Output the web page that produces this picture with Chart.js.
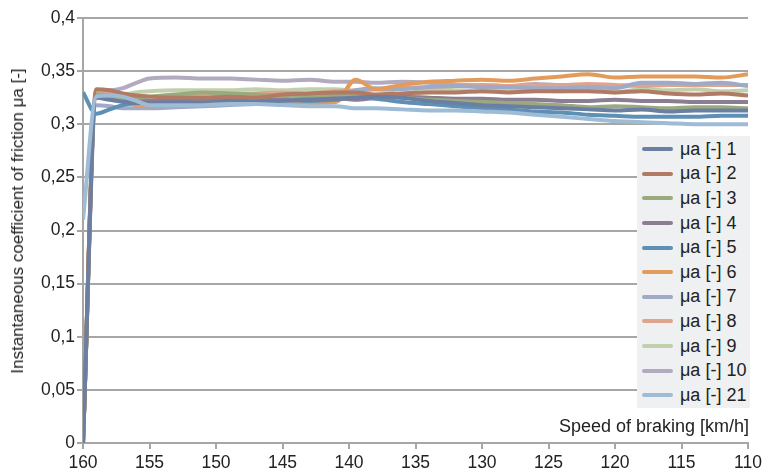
<!DOCTYPE html>
<html lang="en">
<head>
    <meta charset="UTF-8">
    <title>Instantaneous coefficient of friction</title>
    <script src="https://cdn.jsdelivr.net/npm/chart.js"></script>
    <style>
        body {
            margin: 0;
            padding: 0;
            background: #fff;
            font-family: "Liberation Sans", Arial, sans-serif;
        }
        .wrap {
            position: relative;
            width: 780px;
            height: 475px;
        }
        .y-title {
            position: absolute;
            left: 18px;
            top: 221px;
            transform: translate(-50%, -50%) rotate(-90deg);
            white-space: nowrap;
            font-size: 17px;
            color: #222;
        }
        .x-title {
            position: absolute;
            right: 31px;
            top: 416px;
            font-size: 18px;
            color: #222;
        }
        .legend {
            position: absolute;
            left: 637px;
            top: 136px;
            width: 113px;
            height: 272px;
            background: #eff0f2;
            box-sizing: border-box;
            padding-top: 1px;
        }
        .legend .row {
            height: 24.6px;
            display: flex;
            align-items: center;
            font-size: 18px;
            color: #222;
        }
        .legend .swatch {
            width: 31px;
            height: 4px;
            border-radius: 2px;
            margin-left: 5px;
            margin-right: 7px;
        }
    </style>
</head>
<body>
<div class="wrap">
    <canvas id="muChart" width="780" height="475"></canvas>
    <div class="y-title">Instantaneous coefficient of friction μa [-]</div>
    <div class="x-title">Speed of braking [km/h]</div>
    <div class="legend" id="legend"></div>
</div>
<script>
    // speeds in km/h (axis runs from 160 down to 110)
    const speeds = [160, 159, 158, 157, 156, 155, 153, 151, 149, 147, 145, 143, 141, 139.5, 138, 136, 134, 132, 130, 128, 126, 124, 122, 120, 118, 116, 114, 112, 110];

    const seriesNames = ['μa [-] 1', 'μa [-] 2', 'μa [-] 3', 'μa [-] 4', 'μa [-] 5', 'μa [-] 6', 'μa [-] 7', 'μa [-] 8', 'μa [-] 9', 'μa [-] 10', 'μa [-] 21'];
    const seriesColors = ['#6b7fa3', '#b07a64', '#9aaa7e', '#8c7e92', '#5e8fb4', '#e39b5b', '#9eaac6', '#dea48e', '#c2cfac', '#b2aabf', '#9ebcd6'];

    const mu1 = [0, 0.325, 0.323, 0.321, 0.320, 0.320, 0.321, 0.320, 0.322, 0.321, 0.322, 0.323, 0.324, 0.325, 0.326, 0.325, 0.322, 0.320, 0.318, 0.317, 0.316, 0.315, 0.314, 0.313, 0.314, 0.312, 0.313, 0.313, 0.313];
    const mu2 = [0, 0.333, 0.332, 0.329, 0.327, 0.326, 0.325, 0.325, 0.326, 0.325, 0.328, 0.329, 0.330, 0.330, 0.328, 0.329, 0.330, 0.330, 0.331, 0.330, 0.331, 0.331, 0.331, 0.330, 0.331, 0.329, 0.328, 0.329, 0.327];
    const mu3 = [0, 0.328, 0.327, 0.325, 0.325, 0.326, 0.328, 0.330, 0.329, 0.328, 0.327, 0.327, 0.328, 0.327, 0.326, 0.325, 0.323, 0.322, 0.321, 0.320, 0.319, 0.318, 0.316, 0.317, 0.316, 0.315, 0.316, 0.316, 0.315];
    const mu4 = [0, 0.326, 0.325, 0.323, 0.322, 0.322, 0.322, 0.322, 0.323, 0.322, 0.323, 0.324, 0.325, 0.323, 0.325, 0.326, 0.325, 0.324, 0.324, 0.323, 0.323, 0.322, 0.322, 0.323, 0.322, 0.322, 0.321, 0.321, 0.321];
    const mu5 = [0.330, 0.310, 0.314, 0.318, 0.320, 0.321, 0.322, 0.321, 0.321, 0.322, 0.323, 0.322, 0.323, 0.325, 0.324, 0.321, 0.319, 0.317, 0.315, 0.314, 0.312, 0.311, 0.309, 0.308, 0.307, 0.307, 0.307, 0.308, 0.308];
    const mu6 = [0, 0.328, 0.325, 0.322, 0.318, 0.317, 0.318, 0.318, 0.320, 0.322, 0.324, 0.320, 0.321, 0.342, 0.333, 0.337, 0.340, 0.341, 0.342, 0.341, 0.343, 0.345, 0.347, 0.344, 0.345, 0.345, 0.345, 0.344, 0.347];
    const mu7 = [0, 0.318, 0.317, 0.315, 0.315, 0.315, 0.316, 0.317, 0.318, 0.319, 0.320, 0.321, 0.326, 0.332, 0.334, 0.333, 0.335, 0.336, 0.335, 0.335, 0.334, 0.334, 0.335, 0.334, 0.339, 0.339, 0.338, 0.339, 0.336];
    const mu8 = [0, 0.332, 0.330, 0.328, 0.327, 0.326, 0.327, 0.328, 0.328, 0.329, 0.330, 0.329, 0.331, 0.332, 0.333, 0.334, 0.335, 0.336, 0.337, 0.336, 0.337, 0.337, 0.338, 0.337, 0.336, 0.337, 0.337, 0.337, 0.337];
    const mu9 = [0, 0.330, 0.329, 0.328, 0.330, 0.331, 0.332, 0.332, 0.332, 0.333, 0.332, 0.333, 0.333, 0.331, 0.333, 0.328, 0.333, 0.332, 0.331, 0.333, 0.332, 0.331, 0.333, 0.330, 0.333, 0.332, 0.333, 0.331, 0.332];
    const mu10 = [0, 0.330, 0.332, 0.334, 0.339, 0.343, 0.344, 0.343, 0.343, 0.342, 0.341, 0.342, 0.340, 0.340, 0.339, 0.340, 0.339, 0.337, 0.337, 0.336, 0.338, 0.337, 0.337, 0.336, 0.337, 0.337, 0.337, 0.337, 0.337];
    const mu21 = [0.210, 0.326, 0.327, 0.326, 0.322, 0.318, 0.318, 0.318, 0.319, 0.319, 0.318, 0.317, 0.317, 0.315, 0.315, 0.314, 0.313, 0.313, 0.312, 0.311, 0.309, 0.307, 0.305, 0.303, 0.302, 0.301, 0.300, 0.300, 0.300];

    const seriesValues = [mu1, mu2, mu3, mu4, mu5, mu6, mu7, mu8, mu9, mu10, mu21];

    const gridGray = '#a6a6a6';
    const tickFont = { family: '"Liberation Sans", Arial, sans-serif', size: 17.5 };

    const datasets = seriesValues.map((vals, i) => ({
        label: seriesNames[i],
        data: vals.map((v, k) => ({ x: speeds[k], y: v })),
        borderColor: seriesColors[i],
        backgroundColor: seriesColors[i],
        borderWidth: 4,
        pointRadius: 0,
        cubicInterpolationMode: 'monotone',
        fill: false,
        order: i === 10 ? -1 : 0
    }));

    new Chart(document.getElementById('muChart'), {
        type: 'line',
        data: { datasets: datasets },
        options: {
            responsive: false,
            animation: false,
            layout: { padding: { left: 0, top: 18, right: 32, bottom: 0 } },
            plugins: {
                legend: { display: false },
                tooltip: { enabled: false }
            },
            scales: {
                x: {
                    type: 'linear',
                    reverse: true,
                    min: 110,
                    max: 160,
                    ticks: {
                        stepSize: 5,
                        color: '#222',
                        padding: 4,
                        maxRotation: 0,
                        font: tickFont
                    },
                    grid: { drawOnChartArea: false, drawTicks: true, tickLength: 6, color: gridGray, lineWidth: 2 },
                    border: { color: gridGray, width: 2 },
                    afterFit: (scale) => { scale.height = 32; }
                },
                y: {
                    min: 0,
                    max: 0.4,
                    ticks: {
                        stepSize: 0.05,
                        color: '#222',
                        padding: 2,
                        font: tickFont,
                        callback: (v) => String(Math.round(v * 100) / 100).replace('.', ',')
                    },
                    grid: { color: gridGray, lineWidth: 2, tickLength: 6 },
                    border: { color: gridGray, width: 2 },
                    afterFit: (scale) => { scale.width = 83; }
                }
            }
        }
    });

    // legend overlay
    const legend = document.getElementById('legend');
    seriesNames.forEach((name, i) => {
        const row = document.createElement('div');
        row.className = 'row';
        const sw = document.createElement('span');
        sw.className = 'swatch';
        sw.style.background = seriesColors[i];
        const tx = document.createElement('span');
        tx.textContent = name;
        row.appendChild(sw);
        row.appendChild(tx);
        legend.appendChild(row);
    });
</script>
</body>
</html>
